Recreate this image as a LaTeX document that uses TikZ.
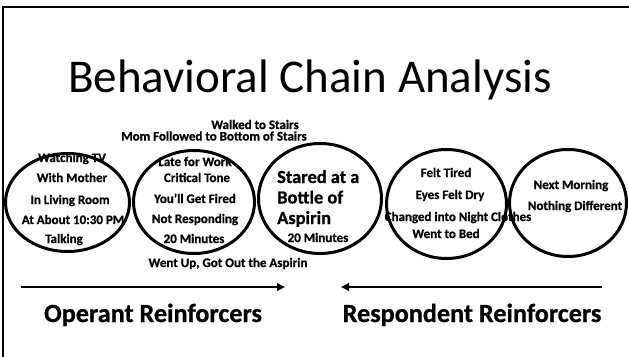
\documentclass[tikz,border=0pt]{standalone}
\usepackage{fontspec}
\setmainfont[BoldFeatures={FakeBold=0.8}]{Carlito}
\usetikzlibrary{shapes.geometric,arrows.meta}
\tikzset{
  lbl/.style={font=\bfseries\fontsize{13}{15}\selectfont, inner sep=0pt, anchor=base},
  big/.style={font=\bfseries\fontsize{18.4}{20}\selectfont, inner sep=0pt, anchor=base west},
  foot/.style={font=\bfseries\fontsize{26.2}{28}\selectfont, inner sep=0pt, anchor=base},
  circ/.style={draw=black, ellipse, line width=3pt, inner sep=0pt},
  arr/.style={line width=2.6pt, -{Triangle[length=8pt,width=7.5pt]}},
}
\begin{document}
\begin{tikzpicture}[x=1pt,y=-1pt]
\useasboundingbox (0,0) rectangle (629,356);
\fill[white] (0,0) rectangle (629,356);
% frame
\draw[line width=2pt] (3,360) -- (3,7) -- (640,7);
% title
\node[font=\fontsize{47}{47}\selectfont, inner sep=0pt, anchor=base] (title) at (310,92) {Behavioral Chain Analysis};
% circles
\node[circ, minimum width=124pt, minimum height=98pt] (c1) at (67.5,202.5) {};
\node[circ, minimum width=121pt, minimum height=103pt] (c2) at (194,202) {};
\node[circ, minimum width=123pt, minimum height=110pt] (c3) at (320,198.5) {};
\node[circ, minimum width=120pt, minimum height=109pt] (c4) at (446.5,204) {};
\node[circ, minimum width=117pt, minimum height=107pt] (c5) at (568,203) {};
% top labels
\node[lbl] (t1) at (255,129) {Walked to Stairs};
\node[lbl] (t2) at (214,140.5) {Mom Followed to Bottom of Stairs};
% circle 1
\node[lbl] (a1) at (72,162) {Watching TV};
\node[lbl] (a2) at (72,182) {With Mother};
\node[lbl] (a3) at (70,204) {In Living Room};
\node[lbl] (a4) at (73,224) {At About 10:30 PM};
\node[lbl] (a5) at (64,243) {Talking};
% circle 2
\node[lbl] (b1) at (195,166) {Late for Work};
\node[lbl] (b2) at (197,182) {Critical Tone};
\node[lbl] (b3) at (195,203) {You’ll Get Fired};
\node[lbl] (b4) at (195,223) {Not Responding};
\node[lbl] (b5) at (194,243) {20 Minutes};
% circle 3
\node[big] (s1) at (277,183) {Stared at a};
\node[big] (s2) at (277,203.5) {Bottle of};
\node[big] (s3) at (277,224) {Aspirin};
\node[lbl] (s4) at (318,242) {20 Minutes};
% circle 4
\node[lbl] (d1) at (446,177) {Felt Tired};
\node[lbl] (d2) at (450,199) {Eyes Felt Dry};
\node[lbl] (d3) at (458,221) {Changed into Night Clothes};
\node[lbl] (d4) at (446,238) {Went to Bed};
% circle 5
\node[lbl] (e1) at (571,189) {Next Morning};
\node[lbl] (e2) at (575,210) {Nothing Different};
% bottom label
\node[lbl] (w) at (228,267) {Went Up, Got Out the Aspirin};
% arrows
\coordinate (la) at (21,287);
\coordinate (lb) at (285,287);
\coordinate (ra) at (602,287);
\coordinate (rb) at (341,287);
\draw[arr] (la) -- (lb);
\draw[arr] (ra) -- (rb);
\node[foot] (op) at (153,322) {Operant Reinforcers};
\node[foot] (rp) at (472,322) {Respondent Reinforcers};
\end{tikzpicture}
\end{document}
